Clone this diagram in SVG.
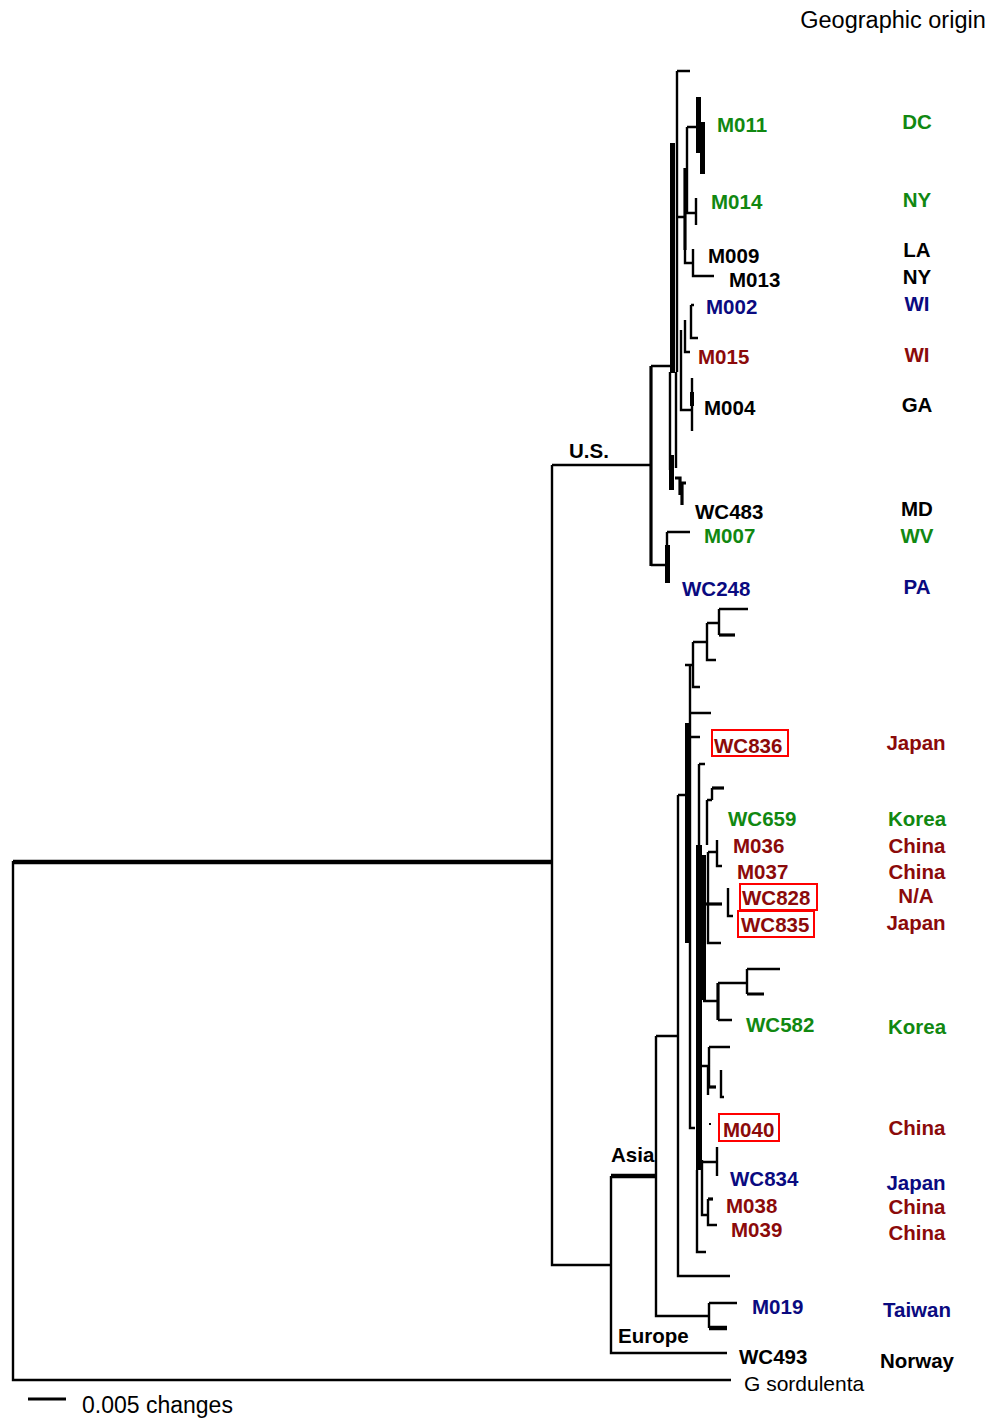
<svg xmlns="http://www.w3.org/2000/svg" width="993" height="1418" viewBox="0 0 993 1418">
<style>
.e{fill:none;stroke:#000;stroke-width:2.4}
.t{fill:none;stroke:#000;stroke-width:4.5}
.m{fill:none;stroke:#000;stroke-width:3.2}
.b{fill:#000;stroke:none}
text{font-family:"Liberation Sans",Arial,sans-serif}
.l{font-size:20.5px;font-weight:bold}
.o{font-size:20.5px;font-weight:bold;text-anchor:middle}
.g{fill:#118811}.r{fill:#8b0a0a}.n{fill:#0a0a80}.k{fill:#000}
.bx{fill:none;stroke:#ff0000;stroke-width:2}
</style>
<rect width="993" height="1418" fill="#fff"/>
<g id="connectors">
<!-- backbone -->
<path class="t" d="M13,862 H552"/>
<path class="e" d="M13,861 V1380 H731"/>
<path class="e" d="M552,465 V1265 H611 M552,465 H651"/>
<path class="e" d="M611,1176 V1353 H727"/>
<path class="t" d="M611,1176 H656"/>
<path class="e" d="M656,1036 V1316 H709 M656,1036 H678"/>
<path class="e" d="M709,1303 V1328 M709,1303 H737"/>
<path class="t" d="M709,1328 H727"/>
<path class="e" d="M678,795 V1276 H730 M678,795 H686"/>
<!-- US clade -->
<path class="m" d="M651,366 V566"/>
<path class="e" d="M651,366 H670 M651,565 H667"/>
<path class="e" d="M667,532 V583 M667,532 H690"/>
<rect class="b" x="665" y="545" width="5" height="38"/>
<rect class="b" x="670" y="143" width="5" height="230"/>
<path class="e" d="M670,372 V470 M676,372 V468"/>
<rect class="b" x="669" y="455" width="5" height="35"/>
<path class="e" d="M677,71 V372 M677,71 H690"/>
<path class="m" d="M675,478 H680 V495 M680,483 H686 M682,482 V505"/>
<rect class="b" x="696" y="97" width="5" height="56"/>
<rect class="b" x="700" y="122" width="5" height="52"/>
<path class="e" d="M687,127 H700 M687,127 V213 H696 M696,198 V225"/>
<path class="m" d="M685,168 V250"/>
<path class="e" d="M685,250 V263 H693 M693,249 V276 H714 M677,217 H686"/>
<path class="e" d="M691,305 V338 H698 M691,305 H694 M685,320 V352 H690 M681,330 V410 H691 M692,378 V431"/>
<rect class="b" x="690" y="392" width="4" height="14"/>
<!-- Asia clade -->
<path class="e" d="M719,609 H748 M719,609 V635"/>
<path class="m" d="M719,635 H735"/>
<path class="e" d="M707,623 H719 M707,623 V660 H716 M693,642 H707 M693,642 V687 H700 M685,665 H693"/>
<path class="e" d="M690,665 V1128 H695 M690,713 H711 M690,713 V737 H700"/>
<rect class="b" x="685" y="723" width="4" height="220"/>
<path class="e" d="M699,764 V850 M699,764 H705"/>
<rect class="b" x="696" y="845" width="6" height="325"/>
<rect class="b" x="702" y="855" width="4" height="145"/>
<path class="e" d="M697,1170 V1252 H706"/>
<path class="m" d="M712,788 H724"/>
<path class="e" d="M712,788 V800 M707,800 V845 M707,800 H712"/>
<path class="e" d="M708,852 V943 H721 M708,852 H717 M717,840 V866 H722 M728,888 V916 H733"/>
<path class="m" d="M706,904 H722"/>
<path class="e" d="M703,1001 H718 M718,983 H747 M747,969 H780 M747,969 V994 M718,1020 H732"/>
<path class="m" d="M747,994 H764 M718,983 V1020"/>
<path class="e" d="M709,1047 H730 M709,1047 V1087 M721,1070 V1097 H724 M702,1066 H708 V1095"/>
<path class="m" d="M709,1087 H716"/>
<path class="e" d="M702,1160 V1215 H707 M703,1162 H717 M717,1147 V1176 M708,1199 V1225 H717"/>
<path class="m" d="M708,1199 H713"/>
<rect class="b" x="709" y="1123" width="2" height="2"/>
<!-- scale bar -->
<path class="m" d="M28,1399 H66"/>
</g>
<g id="tips">
<text class="l g" x="717" y="132">M011</text>
<text class="l g" x="711" y="209">M014</text>
<text class="l k" x="708" y="263">M009</text>
<text class="l k" x="729" y="287">M013</text>
<text class="l n" x="706" y="314">M002</text>
<text class="l r" x="698" y="364">M015</text>
<text class="l k" x="704" y="415">M004</text>
<text class="l k" x="695" y="519">WC483</text>
<text class="l g" x="704" y="543">M007</text>
<text class="l n" x="682" y="596">WC248</text>
<g id="wc836"><rect class="bx" x="712" y="730" width="76" height="26"/><text class="l r" x="714" y="753">WC836</text></g>
<text class="l g" x="728" y="826">WC659</text>
<text class="l r" x="733" y="853">M036</text>
<text class="l r" x="737" y="879">M037</text>
<g id="wc828"><rect class="bx" x="740" y="884" width="77" height="26"/><text class="l r" x="742" y="905">WC828</text></g>
<g id="wc835"><rect class="bx" x="738" y="911" width="76" height="26"/><text class="l r" x="741" y="932">WC835</text></g>
<text class="l g" x="746" y="1032">WC582</text>
<g id="m040"><rect class="bx" x="719" y="1114" width="60" height="27"/><text class="l r" x="723" y="1137">M040</text></g>
<text class="l n" x="730" y="1186">WC834</text>
<text class="l r" x="726" y="1213">M038</text>
<text class="l r" x="731" y="1237">M039</text>
<text class="l n" x="752" y="1314">M019</text>
<text class="l k" x="739" y="1364">WC493</text>
<text x="744" y="1391" style="font-size:21px">G sordulenta</text>
</g>
<g id="clades">
<text class="l k" x="569" y="458">U.S.</text>
<text class="l k" x="611" y="1162">Asia</text>
<text class="l k" x="618" y="1343">Europe</text>
</g>
<g id="origins">
<text x="893" y="28" style="font-size:23.5px;text-anchor:middle">Geographic origin</text>
<text class="o g" x="917" y="129">DC</text>
<text class="o g" x="917" y="207">NY</text>
<text class="o k" x="917" y="257">LA</text>
<text class="o k" x="917" y="284">NY</text>
<text class="o n" x="917" y="311">WI</text>
<text class="o r" x="917" y="362">WI</text>
<text class="o k" x="917" y="412">GA</text>
<text class="o k" x="917" y="516">MD</text>
<text class="o g" x="917" y="543">WV</text>
<text class="o n" x="917" y="594">PA</text>
<text class="o r" x="916" y="750">Japan</text>
<text class="o g" x="917" y="826">Korea</text>
<text class="o r" x="917" y="853">China</text>
<text class="o r" x="917" y="879">China</text>
<text class="o r" x="916" y="903">N/A</text>
<text class="o r" x="916" y="930">Japan</text>
<text class="o g" x="917" y="1034">Korea</text>
<text class="o r" x="917" y="1135">China</text>
<text class="o n" x="916" y="1190">Japan</text>
<text class="o r" x="917" y="1214">China</text>
<text class="o r" x="917" y="1240">China</text>
<text class="o n" x="917" y="1317">Taiwan</text>
<text class="o k" x="917" y="1368">Norway</text>
</g>
<g id="scale">
<text x="82" y="1413" style="font-size:23px">0.005 changes</text>
</g>
</svg>
